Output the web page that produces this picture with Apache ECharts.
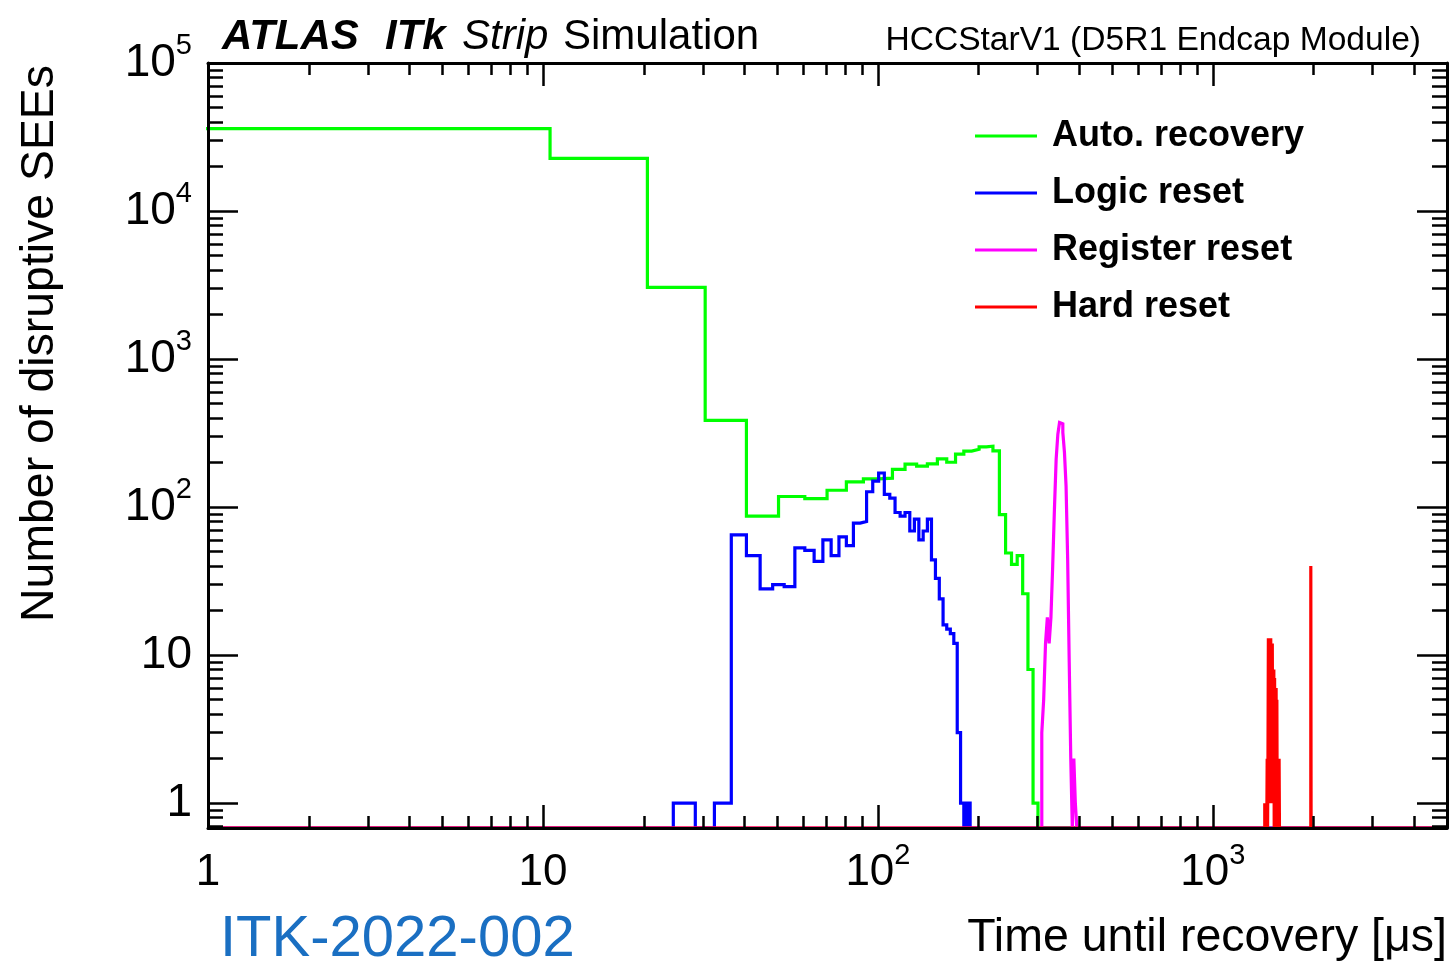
<!DOCTYPE html>
<html>
<head>
<meta charset="utf-8">
<script src="https://cdn.jsdelivr.net/npm/echarts@6/dist/echarts.min.js"></script>
<style>
html,body{margin:0;padding:0;background:#ffffff;}
#chart{width:1451px;height:964px;}
</style>
</head>
<body>
<div id="chart"></div>
<script>
// ---------------- data ----------------
const X_MIN = 1, X_MAX = 5000;
const Y_MIN = 0.68, Y_MAX = 100000;

const xTickValues = [1, 10, 100, 1000];
const xTickLabels = ['1', '10', '10^2', '10^3'];
const yTickValues = [1, 10, 100, 1000, 10000, 100000];
const yTickLabels = ['1', '10', '10^2', '10^3', '10^4', '10^5'];

const seriesNames = ['Auto. recovery', 'Logic reset', 'Register reset', 'Hard reset'];

// Auto. recovery (bin edges in microseconds, counts per bin)
const greenEdges = [0.5, 10.5, 20.5, 30.5, 40.5, 50.5, 60.5, 70.5, 80.5, 90.5, 100.5, 110.5, 120.5, 130.5, 140.5,
  150.5, 160.5, 170.5, 180.5, 190.5, 200.5, 210.5, 220.5, 230.5, 240.5, 250.5, 260.5, 270.5, 280.5, 290.5, 300.5];
const greenCounts = [36000, 22700, 3050, 385, 87, 118, 114, 130, 148, 155, 157, 180, 195, 189, 196,
  212, 201, 228, 239, 246, 255, 258, 240, 89, 49, 41, 47, 26, 8, 1];

// Logic reset
const blueEdges = [24.5, 28.5, 32.5, 36.5, 40.5, 44.5, 48.5, 52.5, 56.5, 60.5, 64.5, 68.5, 72.5, 76.5, 80.5,
  84.5, 88.5, 92.5, 96.5, 100.5, 104.5, 108.5, 112.5, 116.5, 120.5, 124.5, 128.5, 132.5, 136.5, 140.5,
  144.5, 148.5, 152.5, 156.5, 160.5, 164.5, 168.5, 172.5, 176.5, 180.5, 184.5, 188.5];
const blueCounts = [1, 0, 1, 65, 47, 28, 30, 29, 53, 51, 43, 60, 47, 63, 55,
  78, 80, 127, 150, 170, 122, 115, 92, 87, 92, 69, 83, 60, 69, 83,
  44, 33, 24, 16, 15, 14, 12, 3, 1, 0, 1];

// Register reset
const magentaEdges = [308.5, 312.5, 316.5, 320.5, 324.5, 328.5, 332.5, 336.5, 340.5, 344.5, 348.5,
  352.5, 356.5, 360.5, 364.5, 368.5, 372.5, 376.5, 380.5, 384.5, 388.5, 392.5];
const magentaCounts = [3, 5, 12, 18, 12, 18, 40, 97, 211, 311, 373,
  365, 320, 234, 139, 45, 9, 2, 0, 2, 1];

// Hard reset
const redEdges = [1428.5, 1432.5, 1436.5, 1440.5, 1444.5, 1448.5, 1452.5, 1456.5, 1460.5, 1464.5,
  1468.5, 1472.5, 1476.5, 1480.5, 1484.5, 1488.5, 1492.5, 1496.5, 1500.5, 1504.5,
  1508.5, 1512.5, 1516.5, 1520.5, 1524.5, 1528.5, 1532.5, 1536.5, 1540.5, 1544.5,
  1548.5, 1552.5, 1556.5, 1560.5, 1564.5, 1568.5, 1572.5, 1576.5, 1580.5, 1960.5, 1964.5];
const redCounts = [1, 0, 1, 0, 1, 0, 2, 0, 2, 13,
  1, 13, 2, 12, 1, 13, 2, 11, 1, 12,
  2, 8, 1, 8, 0, 7, 0, 6, 1, 6,
  0, 5, 0, 2, 0, 2, 0, 2, 0, 40];

// ---------------- helpers ----------------
const FONT = "'Liberation Sans', Arial, Helvetica, sans-serif";
const colors = ['#00ff00', '#0000ff', '#ff00ff', '#ff0000'];

function histPoints(edges, counts) {
  // histogram drawn as a step line; empty bins sit on the frame bottom (as ROOT does in log-y)
  const pts = [];
  const lift = c => (c > 0 ? c : Y_MIN);
  if (edges[0] > X_MIN) pts.push([X_MIN, Y_MIN]);
  for (let i = 0; i < counts.length; i++) pts.push([edges[i], lift(counts[i])]);
  pts.push([edges[edges.length - 1], Y_MIN]);
  pts.push([X_MAX, Y_MIN]);
  return pts;
}
function supLabel(s) {
  const p = s.split('^');
  return p.length > 1 ? p[0] + '{sup|' + p[1] + '}' : s;
}
function labelFor(v, vals, labels) {
  for (let i = 0; i < vals.length; i++) {
    if (Math.abs(Math.log10(v) - Math.log10(vals[i])) < 1e-6) return supLabel(labels[i]);
  }
  return '';
}
// tick positions for the decoration axes (in decades)
const xMajor = xTickValues.map(v => Math.log10(v));
const yMajor = yTickValues.map(v => Math.log10(v));
const xMinor = [];
for (let d = 0; d < 4; d++) for (let k = 2; k <= 9; k++) { const v = k * Math.pow(10, d); if (v < X_MAX) xMinor.push(Math.log10(v)); }
const yMinor = [];
for (let d = -1; d < 5; d++) for (let k = 2; k <= 9; k++) { const v = k * Math.pow(10, d); if (v > Y_MIN && v < Y_MAX) yMinor.push(Math.log10(v)); }

const labelRich = { sup: { fontSize: 29, fontFamily: FONT, color: '#000', lineHeight: 12, verticalAlign: 'top' } };
const axisLineStyle = { show: true, onZero: false, lineStyle: { color: '#000', width: 3 } };
const TICK_W = 2.5;

function logX(pos, showLabel) {
  return {
    type: 'log', logBase: 10, min: X_MIN, max: X_MAX, position: pos, z: 3,
    axisLine: axisLineStyle,
    axisTick: { show: false },
    splitLine: { show: false },
    axisLabel: {
      show: showLabel, margin: 13, fontSize: 44, lineHeight: 64, fontFamily: FONT, color: '#000',
      formatter: v => labelFor(v, xTickValues, xTickLabels), rich: labelRich
    }
  };
}
function tickX(pos, values, len) {
  return {
    type: 'value', min: 0, max: Math.log10(X_MAX), position: pos, z: 3,
    axisLine: { show: false, onZero: false }, axisLabel: { show: false }, splitLine: { show: false },
    axisTick: { show: true, inside: true, length: len, customValues: values, lineStyle: { color: '#000', width: TICK_W } }
  };
}
function logY(pos, showLabel) {
  return {
    type: 'log', logBase: 10, min: Y_MIN, max: Y_MAX, position: pos, z: 3,
    axisLine: axisLineStyle,
    axisTick: { show: false },
    splitLine: { show: false },
    axisLabel: {
      show: showLabel, margin: 16, fontSize: 46, lineHeight: 64, fontFamily: FONT, color: '#000',
      formatter: v => labelFor(v, yTickValues, yTickLabels), rich: labelRich
    }
  };
}
function tickY(pos, values, len) {
  return {
    type: 'value', min: Math.log10(Y_MIN), max: Math.log10(Y_MAX), position: pos, z: 3,
    axisLine: { show: false, onZero: false }, axisLabel: { show: false }, splitLine: { show: false },
    axisTick: { show: true, inside: true, length: len, customValues: values, lineStyle: { color: '#000', width: TICK_W } }
  };
}

const histData = [
  histPoints(greenEdges, greenCounts),
  histPoints(blueEdges, blueCounts),
  histPoints(magentaEdges, magentaCounts),
  histPoints(redEdges, redCounts)
];

const series = seriesNames.map((name, i) => ({
  type: 'line', name: name, data: histData[i], step: 'end',
  xAxisIndex: 0, yAxisIndex: 0,
  symbol: 'none', showSymbol: false, clip: true, z: 2,
  color: colors[i],
  itemStyle: { color: colors[i] },
  lineStyle: { color: colors[i], width: 3.2, join: 'miter', cap: 'butt' },
  emphasis: { disabled: true },
  animation: false
}));

function txt(text, x, y, opts) {
  return {
    type: 'text', x: x, y: y, rotation: opts.rotation || 0, z: 10,
    style: Object.assign({
      text: text, fill: '#000', fontFamily: FONT,
      textAlign: opts.align || 'left', align: opts.align || 'left',
      textVerticalAlign: 'middle', verticalAlign: 'middle'
    }, opts.style)
  };
}

const option = {
  backgroundColor: '#ffffff',
  animation: false,
  grid: { left: 208, right: 4, top: 63, bottom: 136, containLabel: false, outerBoundsMode: 'none' },
  xAxis: [
    logX('bottom', true), logX('top', false),
    tickX('bottom', xMajor, 23), tickX('top', xMajor, 23),
    tickX('bottom', xMinor, 12), tickX('top', xMinor, 12)
  ],
  yAxis: [
    logY('left', true), logY('right', false),
    tickY('left', yMajor, 30), tickY('right', yMajor, 30),
    tickY('left', yMinor, 15), tickY('right', yMinor, 15)
  ],
  legend: {
    data: seriesNames, orient: 'vertical', left: 975, top: 116, padding: 0,
    itemWidth: 62, itemHeight: 3, itemGap: 17, icon: 'rect', selectedMode: false,
    textStyle: { fontSize: 36, fontWeight: 'bold', fontFamily: FONT, color: '#000', lineHeight: 40, padding: [0, 0, 0, 10] }
  },
  graphic: [
    txt('ATLAS', 222, 37, { style: { fontSize: 42, fontWeight: 'bold', fontStyle: 'italic' } }),
    txt('ITk', 385, 37, { style: { fontSize: 42, fontWeight: 'bold', fontStyle: 'italic' } }),
    txt('Strip', 462, 37, { style: { fontSize: 42, fontStyle: 'italic' } }),
    txt('Simulation', 563, 37, { style: { fontSize: 42 } }),
    txt('HCCStarV1 (D5R1 Endcap Module)', 1421, 41, { align: 'right', style: { fontSize: 33.6 } }),
    txt('Time until recovery [\u03bcs]', 1447, 938, { align: 'right', style: { fontSize: 46.5 } }),
    txt('ITK-2022-002', 220, 940, { style: { fontSize: 58, fill: '#1a6fc2' } }),
    txt('Number of disruptive SEEs', 40, 65, { align: 'right', rotation: Math.PI / 2, style: { fontSize: 46.4 } })
  ],
  series: series
};

const chart = echarts.init(document.getElementById('chart'), null, { renderer: 'canvas' });
chart.setOption(option);
</script>
</body>
</html>
